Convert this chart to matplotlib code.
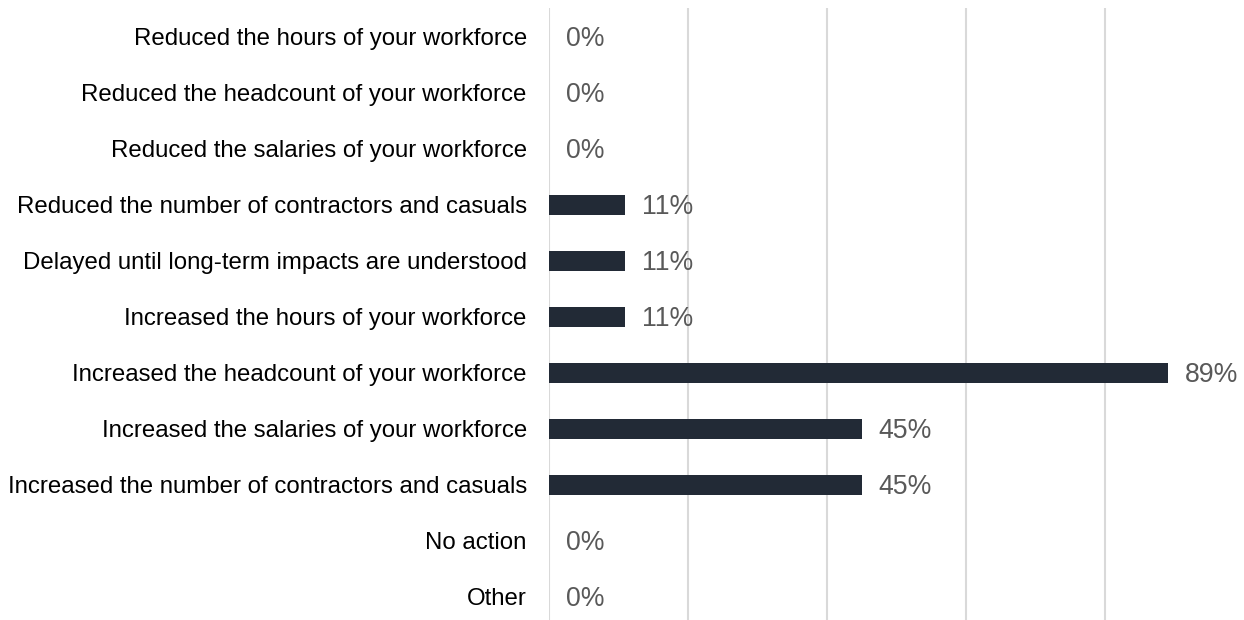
import matplotlib
matplotlib.use("Agg")
import matplotlib.pyplot as plt

categories = [
    "Reduced the hours of your workforce",
    "Reduced the headcount of your workforce",
    "Reduced the salaries of your workforce",
    "Reduced the number of contractors and casuals",
    "Delayed until long-term impacts are understood",
    "Increased the hours of your workforce",
    "Increased the headcount of your workforce",
    "Increased the salaries of your workforce",
    "Increased the number of contractors and casuals",
    "No action",
    "Other",
]
values = [0, 0, 0, 11, 11, 11, 89, 45, 45, 0, 0]
value_labels = ["0%", "0%", "0%", "11%", "11%", "11%", "89%", "45%", "45%", "0%", "0%"]
grid_ticks = [0, 20, 40, 60, 80]

plt.rcParams['font.family'] = ['Liberation Sans', 'DejaVu Sans']

W, H = 1244, 620
fig = plt.figure(figsize=(W / 100, H / 100), dpi=100)
ax = fig.add_axes([549 / W, 0, 1 - 549 / W, 1 - 8 / H])

ypos = list(range(len(categories)))
ax.barh(ypos, values, height=0.357, color="#222a36", zorder=3)
ax.set_xlim(0, 100)
ax.set_ylim(10.416, -0.5125)

for x in grid_ticks:
    ax.axvline(x, color="#d9d9d9", lw=1.5, zorder=1)

vfs = 19.2
for y, v, lab in zip(ypos, values, value_labels):
    ax.annotate(lab, xy=(v, y), xytext=(17 * 0.72, -0.716 * vfs / 2), textcoords="offset points",
                ha="left", va="baseline", fontsize=vfs, color="#595959")

ax.set_yticks(ypos)
ax.set_yticklabels(categories, fontsize=17.3, color="#000000")
ax.tick_params(axis="y", length=0, pad=16)
ax.set_xticks([])
for s in ax.spines.values():
    s.set_visible(False)

fig.savefig("out.png", dpi=100)
